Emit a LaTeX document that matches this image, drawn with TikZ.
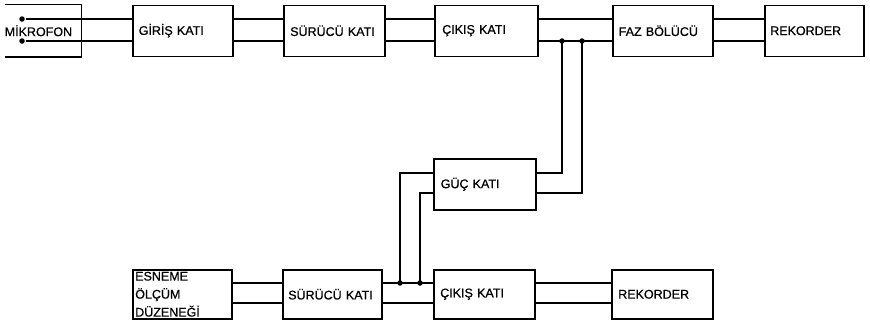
\documentclass[tikz,border=0pt]{standalone}
\usepackage{fontspec}
\setmainfont{Liberation Sans}
\newfontfamily\labfont{Liberation Sans}[FakeBold=0.7]
\begin{document}
\begin{tikzpicture}[x=1pt,y=-1pt,line width=1.5pt,
  blk/.style={draw,rectangle,anchor=north west,minimum height=51pt,minimum width=#1,
    inner xsep=5pt,inner ysep=0pt,text width=88pt,align=left,
    font=\labfont\fontsize{12.5}{18}\selectfont},
  dot/.style={circle,fill,inner sep=0pt,minimum size=5.5pt}]
\useasboundingbox (0,0) rectangle (870,324);
% top row
\node[blk=78pt,draw=none,inner xsep=1pt,text width=74pt] (mic) at (2,4.5) {MİKROFON};
\draw ([xshift=3pt]mic.north west) -- (mic.north east) -- (mic.south east) -- ([xshift=3pt]mic.south west);
\node[blk=100pt] (gir) at (132,4.5) {GİRİŞ KATI};
\node[blk=101pt] (sur1) at (283,4.5) {SÜRÜCÜ KATI};
\node[blk=103pt] (cik1) at (434,4.5) {ÇIKIŞ KATI};
\node[blk=100pt] (faz) at (612,4.5) {FAZ BÖLÜCÜ};
\node[blk=99pt] (rek1) at (764,4.5) {REKORDER};
% middle
\node[blk=102pt] (guc) at (433,158) {GÜÇ KATI};
% bottom row
\node[blk=99pt,minimum height=49pt,inner xsep=2pt,text width=94pt] (esn) at (132,269) {ESNEME\\ÖLÇÜM\\DÜZENEĞİ};
\node[blk=99pt,minimum height=49pt] (sur2) at (282,269) {SÜRÜCÜ KATI};
\node[blk=101pt,minimum height=49pt] (cik2) at (433,269) {ÇIKIŞ KATI};
\node[blk=101pt,minimum height=49pt] (rek2) at (611,269) {REKORDER};
% microphone terminals
\node[dot] (m1) at (22,19) {};
\node[dot] (m2) at (22,41) {};
\draw (m1) -- (gir.west |- m1);
\draw (m2) -- (gir.west |- m2);
% top connections
\foreach \a/\b in {gir/sur1,sur1/cik1,cik1/faz,faz/rek1}{
  \draw (\a.east |- 0,19) -- (\b.west |- 0,19);
  \draw (\a.east |- 0,41) -- (\b.west |- 0,41);
}
% bottom connections
\foreach \a/\b in {esn/sur2,sur2/cik2,cik2/rek2}{
  \draw (\a.east |- 0,283) -- (\b.west |- 0,283);
  \draw (\a.east |- 0,303) -- (\b.west |- 0,303);
}
% junctions
\node[dot] (j1) at (562,41) {};
\node[dot] (j2) at (582,41) {};
\node[dot] (j3) at (400,283) {};
\node[dot] (j4) at (420,283) {};
\draw (j1.center) |- (guc.east |- 0,173);
\draw (j2.center) |- (guc.east |- 0,193);
\draw (j3.center) |- (guc.west |- 0,173);
\draw (j4.center) |- (guc.west |- 0,193);
\end{tikzpicture}
\end{document}
